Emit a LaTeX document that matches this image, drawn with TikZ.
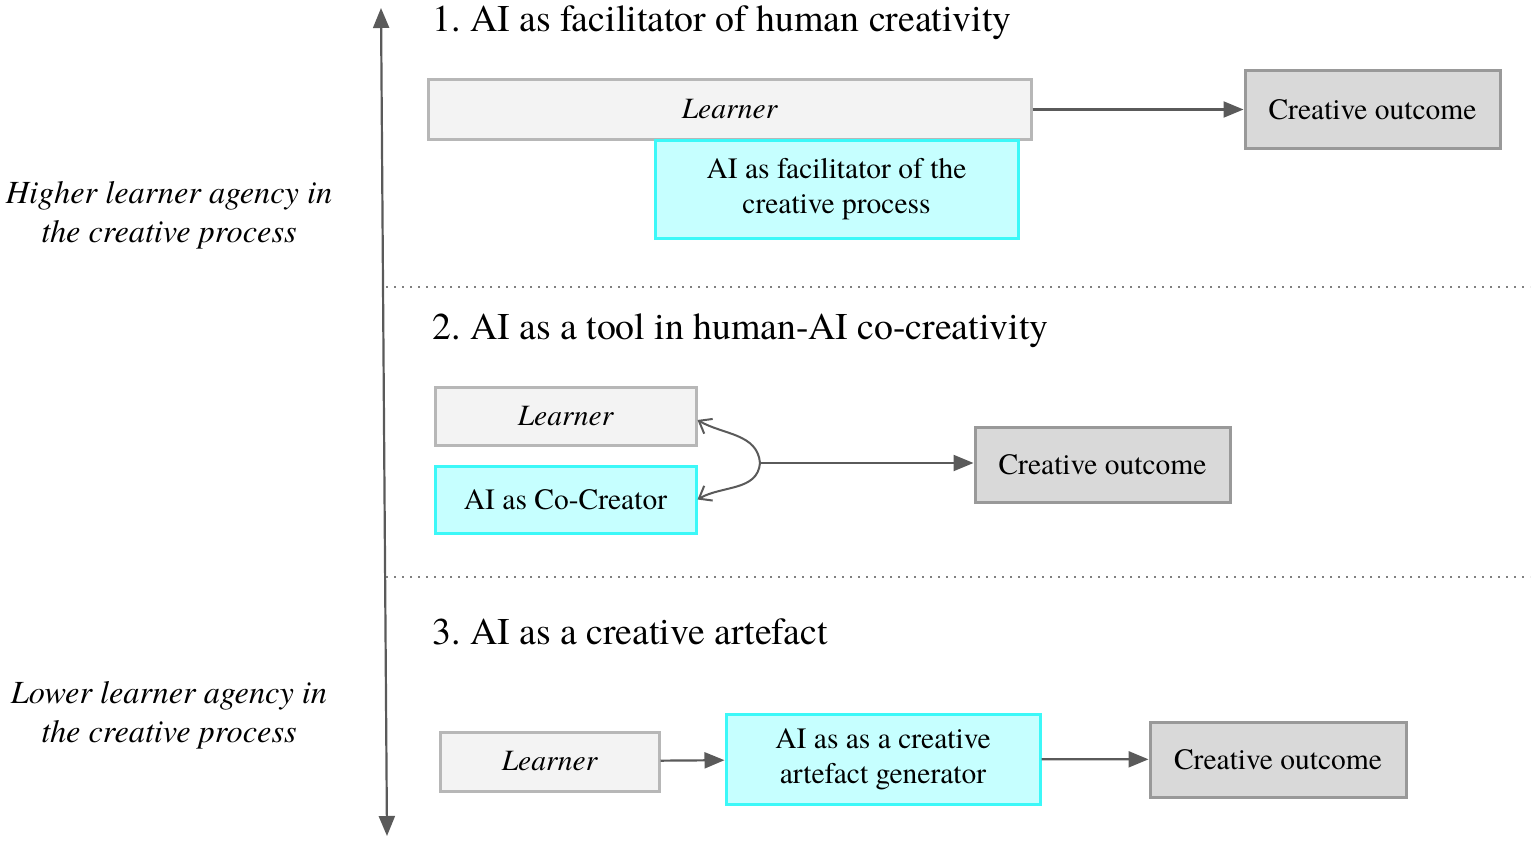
\documentclass[tikz,border=0pt]{standalone}
\usepackage{fontspec}
\setmainfont{TeX Gyre Termes}
\usetikzlibrary{arrows.meta}
\definecolor{learnerfill}{HTML}{F3F3F3}
\definecolor{learnerline}{HTML}{B7B7B7}
\definecolor{aifill}{HTML}{C6FFFF}
\definecolor{ailine}{HTML}{3CF8F8}
\definecolor{outfill}{HTML}{D9D9D9}
\definecolor{outline}{HTML}{999999}
\definecolor{arrline}{HTML}{5A5A5A}
\frenchspacing

\begin{document}
\begin{tikzpicture}[x=1pt, y=-1pt,
  box/.style={draw, line width=3pt, inner sep=0pt, align=center, font=\fontsize{29.5}{35}\selectfont},
  learnerbox/.style={box, fill=learnerfill, draw=learnerline, font=\fontsize{29.5}{35}\selectfont\itshape},
  aibox/.style={box, fill=aifill, draw=ailine},
  outcomebox/.style={box, fill=outfill, draw=outline},
  title/.style={anchor=west, inner sep=0pt, font=\fontsize{37.8}{44}\selectfont},
  side/.style={align=center, inner sep=0pt, font=\fontsize{32.3}{39}\selectfont\itshape},
  arr/.style={draw=arrline, line width=2.2pt, -{Triangle[length=20pt,width=16pt]}},
  curvearr/.style={draw=arrline, line width=2pt, -{Straight Barb[length=11pt,width=17pt]}},
  sep/.style={draw=gray, line width=2pt, dash pattern=on 2pt off 6pt}]
\useasboundingbox (0,0) rectangle (1535,843);

\draw[draw=arrline, line width=2.2pt, {Triangle[length=20pt,width=16pt]}-{Triangle[length=20pt,width=16pt]}] (381,8) -- (387,836);
\node[side] (high) at (169,215) {Higher learner agency in\\the creative process};
\node[side] (low) at (169,715) {Lower learner agency in\\the creative process};

\node[title] (t1) at (432,23) {1. AI as facilitator of human creativity};
\node[learnerbox, minimum width=603, minimum height=59] (learner1) at (729.5,109.5) {Learner};
\node[aibox, minimum width=363, minimum height=98] (ai1) at (836.5,189) {AI as facilitator of the\\creative process};
\node[outcomebox, minimum width=255, minimum height=77] (out1) at (1372.5,109.5) {Creative outcome};
\draw[arr] (learner1) -- (out1);

\draw[sep] (386,287) -- (1530,287);

\node[title] (t2) at (432,331) {2. AI as a tool in human-AI co-creativity};
\node[learnerbox, minimum width=261, minimum height=58] (learner2) at (565.5,416) {Learner};
\node[aibox, minimum width=261, minimum height=67] (ai2) at (565.5,499.5) {AI as Co-Creator};
\node[outcomebox, minimum width=255, minimum height=75] (out2) at (1102.5,464.5) {Creative outcome};
\coordinate (meet) at (760,463);
\draw[curvearr] (meet) to[out=95, in=-30] ([yshift=-4]learner2.east);
\draw[curvearr] (meet) to[out=-95, in=30] (ai2.east);
\draw[arr] (meet) -- (out2.west |- meet);

\draw[sep] (386,577) -- (1530,577);

\node[title] (t3) at (432,632) {3. AI as a creative artefact};
\node[learnerbox, minimum width=219, minimum height=59] (learner3) at (549.5,761.5) {Learner};
\node[aibox, minimum width=314, minimum height=90] (ai3) at (883,759) {AI as as a creative\\artefact generator};
\node[outcomebox, minimum width=256, minimum height=75] (out3) at (1278,759.5) {Creative outcome};
\draw[arr] (learner3) -- (ai3);
\draw[arr] (ai3) -- (out3);
\end{tikzpicture}
\end{document}
